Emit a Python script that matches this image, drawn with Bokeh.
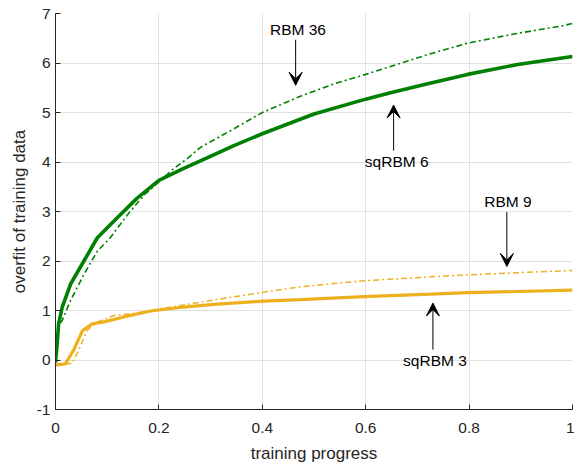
from bokeh.plotting import figure
from bokeh.models import Range1d, FixedTicker, Arrow, VeeHead, Label, CustomJSTickFormatter
from bokeh.embed import file_html
from bokeh.resources import INLINE

# ---- data ----
x_sqrbm6 = [0.0, 0.003, 0.006, 0.013, 0.029, 0.055, 0.081, 0.119, 0.158, 0.2, 0.248, 0.29,
            0.345, 0.4, 0.5, 0.6, 0.648, 0.72, 0.797, 0.894, 1.0]
y_sqrbm6 = [-0.05, 0.3, 0.73, 1.07, 1.53, 2.0, 2.47, 2.87, 3.27, 3.63, 3.87, 4.07,
            4.33, 4.57, 4.97, 5.27, 5.4, 5.58, 5.77, 5.97, 6.13]

x_rbm36 = [0.01, 0.013, 0.029, 0.055, 0.081, 0.106, 0.139, 0.171, 0.2, 0.229, 0.255, 0.281,
           0.345, 0.4, 0.474, 0.539, 0.6, 0.648, 0.72, 0.797, 0.894, 0.98, 1.0]
y_rbm36 = [0.75, 0.8, 1.2, 1.73, 2.2, 2.47, 2.93, 3.33, 3.6, 3.87, 4.07, 4.3,
           4.67, 5.0, 5.33, 5.58, 5.77, 5.93, 6.17, 6.4, 6.6, 6.75, 6.8]

x_sqrbm3 = [0.0, 0.019, 0.035, 0.052, 0.071, 0.094, 0.132, 0.184, 0.248, 0.313, 0.403, 0.474,
            0.597, 0.726, 0.797, 1.0]
y_sqrbm3 = [-0.1, -0.08, 0.2, 0.59, 0.73, 0.77, 0.87, 0.99, 1.07, 1.13, 1.19, 1.22,
            1.28, 1.33, 1.36, 1.41]

x_rbm9 = [0.019, 0.032, 0.045, 0.061, 0.081, 0.113, 0.145, 0.2, 0.281, 0.403, 0.474,
          0.597, 0.726, 0.797, 1.0]
y_rbm9 = [-0.08, -0.07, 0.2, 0.6, 0.77, 0.9, 0.93, 1.03, 1.17, 1.37, 1.48,
          1.6, 1.68, 1.72, 1.81]

x_ticks = [0, 0.2, 0.4, 0.6, 0.8, 1]
y_ticks = [-1, 0, 1, 2, 3, 4, 5, 6, 7]

GREEN = "#008000"
ORANGE = "#EDB120"
FONT = "Liberation Sans"
AX = "#262626"

p = figure(width=574, height=465, output_backend="svg", toolbar_location=None,
           x_range=Range1d(0, 1), y_range=Range1d(-1, 7),
           min_border_left=55, min_border_right=2, min_border_top=13, min_border_bottom=52)
p.outline_line_color = None
p.background_fill_color = "white"

for ax in (p.xaxis[0], p.yaxis[0]):
    ax.axis_line_color = AX
    ax.axis_line_width = 1
    ax.major_tick_line_color = AX
    ax.major_tick_in = 5
    ax.major_tick_out = 0
    ax.minor_tick_line_color = None
    ax.major_label_text_font = FONT
    ax.major_label_text_font_size = "15.5px"
    ax.major_label_text_color = AX
    ax.axis_label_text_font = FONT
    ax.axis_label_text_font_size = "17px"
    ax.axis_label_text_font_style = "normal"
    ax.axis_label_text_color = AX

p.xaxis.ticker = FixedTicker(ticks=x_ticks)
p.yaxis.ticker = FixedTicker(ticks=y_ticks)
p.xaxis.formatter = CustomJSTickFormatter(code="return String(Math.round(tick*10)/10);")
p.yaxis.formatter = CustomJSTickFormatter(code="return String(tick);")
p.xaxis.axis_label = "training progress"
p.yaxis.axis_label = "overfit of training data"
p.xaxis.major_label_standoff = 13
p.xaxis.axis_label_standoff = 8
p.yaxis.major_label_standoff = 5
p.yaxis.axis_label_standoff = 5

p.xgrid.grid_line_color = "#e0e0e0"
p.ygrid.grid_line_color = "#e0e0e0"

p.line(x_rbm9, y_rbm9, line_color=ORANGE, line_width=1.5, line_dash="6 3 2 3")
p.line(x_sqrbm3, y_sqrbm3, line_color=ORANGE, line_width=3.2)
p.line(x_rbm36, y_rbm36, line_color=GREEN, line_width=1.6, line_dash="6 3 2 3")
p.line(x_sqrbm6, y_sqrbm6, line_color=GREEN, line_width=3.6)

# annotations: (text, text x, text y, arrow start x, start y, arrow tip y)
notes = [
    ("RBM 36", 0.469, 6.67, 0.4645, 6.47, 5.55),
    ("sqRBM 6", 0.66, 4.01, 0.654, 4.23, 5.15),
    ("RBM 9", 0.875, 3.21, 0.873, 2.99, 1.89),
    ("sqRBM 3", 0.734, -0.01, 0.730, 0.21, 1.15),
]
for txt, tx, ty, ax_, ay, tipy in notes:
    p.add_layout(Label(x=tx, y=ty, text=txt, text_align="center", text_baseline="middle",
                       text_font=FONT, text_font_size="15.5px", text_color="black"))
    p.add_layout(Arrow(x_start=ax_, y_start=ay, x_end=ax_, y_end=tipy, line_color="black",
                       line_width=1,
                       end=VeeHead(size=13, fill_color="black", line_color="black", line_width=1)))

open("out.html", "w").write(file_html(p, INLINE))
